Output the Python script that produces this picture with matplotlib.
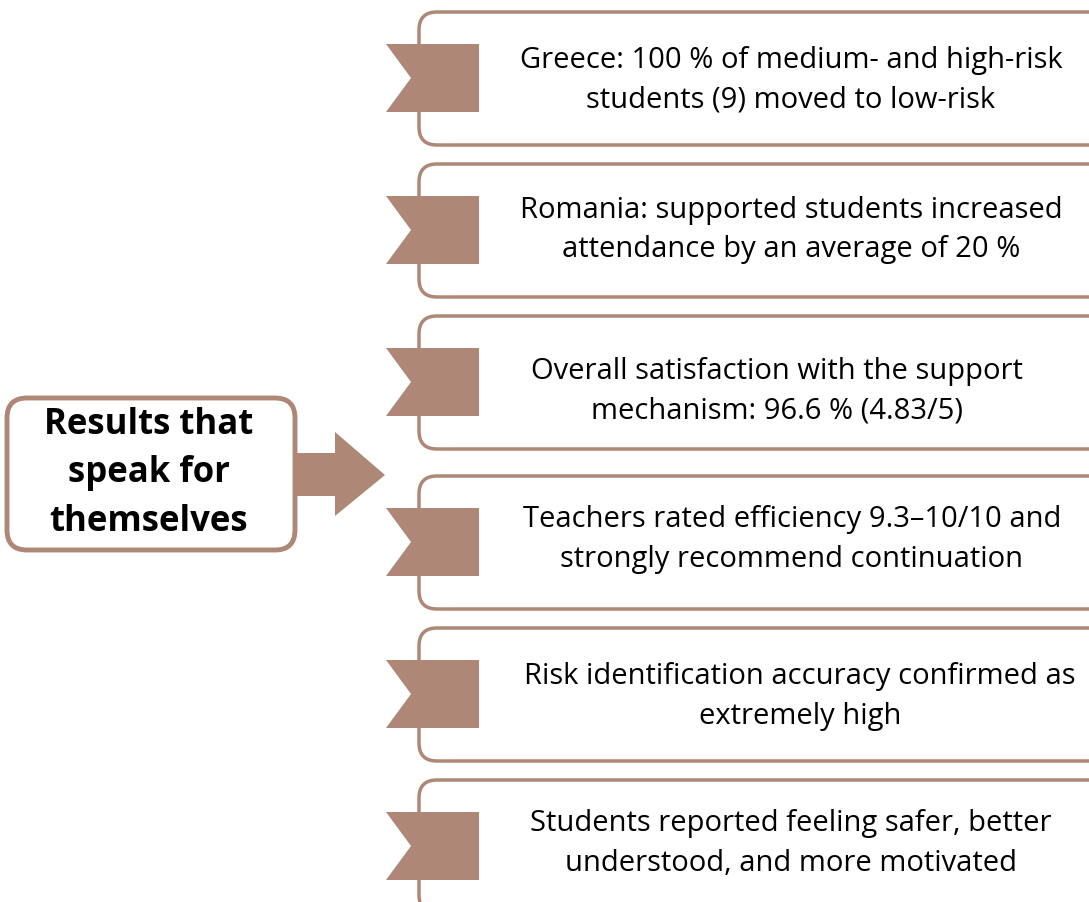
import matplotlib.pyplot as plt
from matplotlib.patches import FancyBboxPatch, Polygon

# CONTENT
title_lines = "Results that\nspeak for\nthemselves"
results = [
    "Greece: 100 % of medium- and high-risk\nstudents (9) moved to low-risk",
    "Romania: supported students increased\nattendance by an average of 20 %",
    "Overall satisfaction with the support\nmechanism: 96.6 % (4.83/5)",
    "Teachers rated efficiency 9.3\u201310/10 and\nstrongly recommend continuation",
    "Risk identification accuracy confirmed as\nextremely high",
    "Students reported feeling safer, better\nunderstood, and more motivated",
]

# LAYOUT (pixels, y downward)
BROWN = '#ae8776'
box_tops = [13, 165, 317, 477, 629, 781]
text_x = [791, 791, 777, 792, 800, 791]
text_y = [78.5, 228, 389.5, 537.5, 694.5, 841.5]
BOX_H = 133
BOX_X = 419

plt.rcParams['font.family'] = ['Open Sans', 'DejaVu Sans']

fig = plt.figure(figsize=(10.89, 9.03), dpi=100)
ax = fig.add_axes([0, 0, 1, 1])
ax.set_xlim(0, 1089)
ax.set_ylim(903, 0)
ax.axis('off')

# right-hand result boxes with flag markers
for top, tx, ty, txt in zip(box_tops, text_x, text_y, results):
    box = FancyBboxPatch((BOX_X, top), 720, BOX_H,
                         boxstyle="round,pad=0,rounding_size=18",
                         facecolor='white', edgecolor=BROWN, linewidth=2.5)
    ax.add_patch(box)
    y0, y1 = top + 32, top + 100
    flag = Polygon([(386, y0), (479, y0), (479, y1), (386, y1), (411, (y0 + y1) / 2)],
                   closed=True, facecolor=BROWN, edgecolor='none')
    ax.add_patch(flag)
    # +2 px: matplotlib's va='center' sits slightly high for this font
    ax.text(tx, ty + 2, txt, ha='center', va='center',
            fontsize=21, color='black', linespacing=1.48)

# left title box
left = FancyBboxPatch((7, 399), 288, 152,
                      boxstyle="round,pad=0,rounding_size=20",
                      facecolor='white', edgecolor=BROWN, linewidth=3.5)
ax.add_patch(left)
ax.text(149, 473.5, title_lines, ha='center', va='center', fontsize=25,
        fontweight='bold', color='black', linespacing=1.47)

# big arrow pointing right
arrow = Polygon([(296, 454), (335, 454), (335, 433), (385, 476),
                 (335, 517), (335, 497), (296, 497)],
                closed=True, facecolor=BROWN, edgecolor='none')
ax.add_patch(arrow)

fig.savefig('out.png', dpi=100)
